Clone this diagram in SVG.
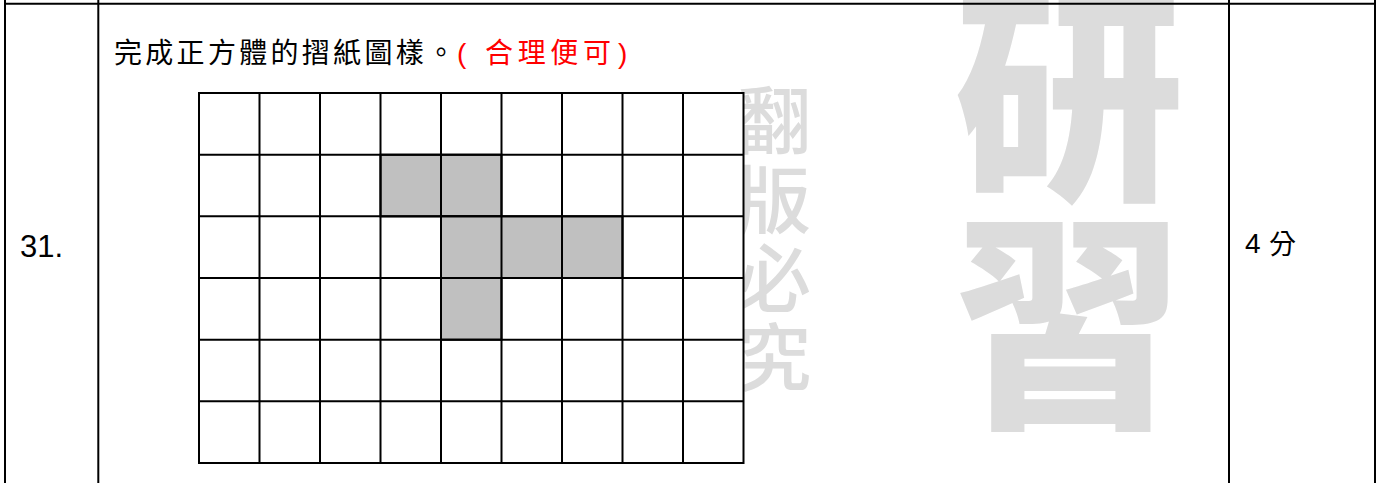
<svg xmlns="http://www.w3.org/2000/svg" width="1382" height="483" viewBox="0 0 1382 483">
<style>
.wm{fill:#dcdcdc;font-family:"Noto Sans CJK TC","Noto Sans CJK SC",sans-serif;writing-mode:vertical-rl}
.big{font-size:230px;font-weight:900;letter-spacing:-2px}
.small{font-size:74px;font-weight:500;letter-spacing:5px}
.line{stroke:#000;stroke-width:2;fill:none}
.cell{fill:#fff;stroke:#000;stroke-width:2}
.shade{fill:#c0c0c0;stroke:#000;stroke-width:2}
.txt{font-family:"Liberation Sans","Noto Sans CJK TC",sans-serif;fill:#000}
.cjk{font-family:"Noto Sans CJK TC","Noto Sans CJK SC",sans-serif}
</style>
<rect width="1382" height="483" fill="#fff"/>
<g id="watermark">
<text class="wm big" x="1069" y="-21">研習</text>
<text class="wm small" x="774" y="83">翻版必究</text>
</g>
<g id="table">
<line class="line" x1="4" y1="3.7" x2="1376" y2="3.7"/>
<line class="line" x1="5" y1="0" x2="5" y2="483"/>
<line class="line" x1="98.3" y1="0" x2="98.3" y2="483"/>
<line class="line" x1="1229" y1="0" x2="1229" y2="483"/>
<line class="line" x1="1375" y1="0" x2="1375" y2="483"/>
</g>
<g id="number">
<text class="txt" x="20" y="257" font-size="31">31.</text>
</g>
<g id="question">
<text class="txt cjk" x="114" y="63" font-size="28" textLength="341" lengthAdjust="spacing">完成正方體的摺紙圖樣。</text>
<text class="txt" x="457" y="63" font-size="28" style="fill:#ff0000"><tspan>(</tspan><tspan x="485" class="cjk" textLength="126" lengthAdjust="spacing">合理便可</tspan><tspan x="618">)</tspan></text>
</g>
<g id="score">
<text class="txt" x="1245" y="253" font-size="28">4</text>
<text class="txt cjk" x="1269" y="254" font-size="27">分</text>
</g>
<g id="grid">
<rect class="cell" x="199" y="93" width="544.5" height="370"/>
<rect class="shade" x="380.5" y="154.7" width="121" height="61.7"/>
<rect class="shade" x="441" y="216.3" width="181.5" height="61.7"/>
<rect class="shade" x="441" y="278" width="60.5" height="61.7"/>
<g class="line">
<line x1="259.5" y1="93" x2="259.5" y2="463"/>
<line x1="320" y1="93" x2="320" y2="463"/>
<line x1="380.5" y1="93" x2="380.5" y2="463"/>
<line x1="441" y1="93" x2="441" y2="463"/>
<line x1="501.5" y1="93" x2="501.5" y2="463"/>
<line x1="562" y1="93" x2="562" y2="463"/>
<line x1="622.5" y1="93" x2="622.5" y2="463"/>
<line x1="683" y1="93" x2="683" y2="463"/>
<line x1="199" y1="154.7" x2="743.5" y2="154.7"/>
<line x1="199" y1="216.3" x2="743.5" y2="216.3"/>
<line x1="199" y1="278" x2="743.5" y2="278"/>
<line x1="199" y1="339.7" x2="743.5" y2="339.7"/>
<line x1="199" y1="401.3" x2="743.5" y2="401.3"/>
</g>
</g>
</svg>
